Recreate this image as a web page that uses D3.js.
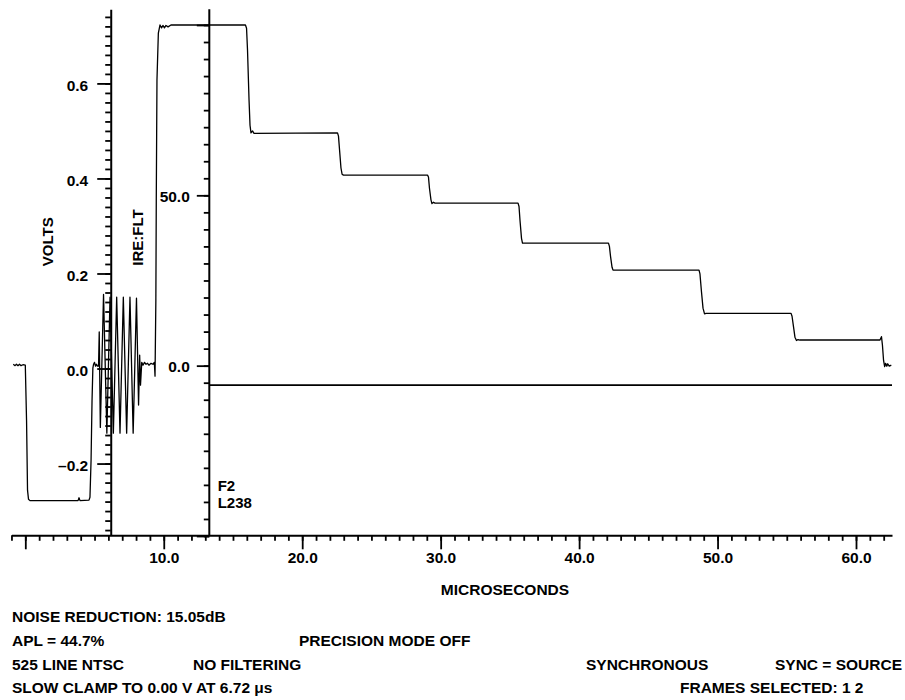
<!DOCTYPE html>
<html><head><meta charset="utf-8">
<script src="https://cdn.jsdelivr.net/npm/d3@7"></script>
<style>
html,body{margin:0;padding:0;background:#fff;}
svg text{font-family:"Liberation Sans",Arial,Helvetica,sans-serif;font-weight:bold;font-size:15.5px;fill:#000;}
</style></head><body>
<svg id="chart" width="905" height="700"></svg>
<script>
// ---------------- DATA ----------------
const xMajorTicks = [0, 10, 20, 30, 40, 50, 60];
const xMajorLabels = ["", "10.0", "20.0", "30.0", "40.0", "50.0", "60.0"];
const voltMajorTicks = [-0.2, 0, 0.2, 0.4, 0.6];
const voltMajorLabels = ["\u20130.2", "0.0", "0.2", "0.4", "0.6"];
const ireMajorTicks = [-50, 0, 50, 100];
const ireMajorLabels = ["", "0.0", "50.0", ""];
const xTitle = "MICROSECONDS";
const voltTitle = "VOLTS";
const ireTitle = "IRE:FLT";
const markerLines = ["F2", "L238"];
const cursorVolts = -0.035;

// trace: time (µs) and level (V)
const traceUs = [
 -0.87,-0.74,-0.64,-0.53,-0.42,-0.31,-0.17,0.00,0.09,0.16,0.23,0.34,1.78,3.81,3.88,3.95,4.60,4.67,4.75,4.82,4.88,4.93,
 5.00,5.07,5.14,5.21,5.29,5.34,5.42,5.65,5.89,6.12,6.36,6.60,6.84,7.08,7.32,7.56,7.79,8.03,8.18,8.26,8.32,8.41,
 8.50,8.61,8.72,8.83,8.93,9.08,9.22,9.32,9.37,9.43,9.46,9.51,9.61,9.73,9.84,9.95,10.05,10.16,10.31,10.52,
 15.90,15.98,16.05,16.16,16.23,16.30,16.41,16.52,
 22.55,22.62,22.70,22.80,22.88,22.98,
 29.05,29.12,29.19,29.30,29.37,29.48,29.59,
 35.59,35.66,35.73,35.84,35.91,
 42.12,42.19,42.27,42.38,42.45,
 48.66,48.73,48.84,48.95,49.06,49.17,
 55.31,55.38,55.49,55.59,55.70,55.81,55.95,
 61.73,61.84,61.91,61.99,62.07,62.14,62.22,62.29,62.40,62.55
];
const traceVolts = [
 0.009,0.006,0.009,0.006,0.009,0.006,0.008,0.007,-0.109,-0.256,-0.275,-0.278,-0.278,-0.278,-0.272,-0.278,-0.277,-0.271,-0.193,-0.067,0.001,0.009,
 0.013,0.005,0.009,0.005,0.005,0.077,-0.124,0.156,-0.136,0.150,-0.136,0.150,-0.136,0.150,-0.136,0.150,-0.136,0.148,-0.077,0.028,-0.035,0.013,
 0.007,0.013,0.009,0.011,0.007,0.011,0.009,0.013,-0.016,0.144,0.354,0.607,0.706,0.723,0.717,0.722,0.717,0.722,0.719,0.723,
 0.723,0.716,0.670,0.565,0.512,0.496,0.500,0.495,
 0.496,0.489,0.459,0.422,0.409,0.407,
 0.407,0.403,0.380,0.355,0.347,0.350,0.348,
 0.348,0.341,0.312,0.274,0.264,
 0.264,0.257,0.236,0.213,0.207,
 0.207,0.199,0.161,0.127,0.115,0.116,
 0.116,0.110,0.087,0.066,0.059,0.061,0.060,
 0.060,0.067,0.049,0.017,0.004,0.011,0.005,0.010,0.005,0.007
];

const infoTexts = [
 "NOISE REDUCTION: 15.05dB",
 "APL = 44.7%", "PRECISION MODE OFF",
 "525 LINE NTSC", "NO FILTERING", "SYNCHRONOUS", "SYNC = SOURCE",
 "SLOW CLAMP TO 0.00 V AT 6.72 \u03bcs", "FRAMES SELECTED: 1 2"
];

// ---------------- LAYOUT ----------------
const svg = d3.select("#chart");
const xScale = d3.scaleLinear().domain([-1, 62.6]).range([11.46, 892]);
const yV = d3.scaleLinear().domain([-0.351, 0.756]).range([535.3, 9.3]);
const yI = d3.scaleLinear().domain([-50, 104.6]).range([536, 9.3]);
const voltsAxisUs = 6.17;
const ireAxisUs = 13.29;
const axisY = 535.3;

function styleAxis(g, domainW) {
  g.select(".domain").attr("stroke", "#000").attr("stroke-width", domainW);
  g.selectAll(".tick line").attr("stroke", "#000").attr("stroke-width", 1.8);
}

// X axis
const gxMinor = svg.append("g").attr("transform", `translate(0,${axisY})`)
  .call(d3.axisBottom(xScale).tickValues(xScale.ticks(64)).tickSize(5.5).tickSizeOuter(0).tickFormat(""));
styleAxis(gxMinor, 2);
const gxMajor = svg.append("g").attr("transform", `translate(0,${axisY})`)
  .call(d3.axisBottom(xScale).tickValues(xMajorTicks).tickSize(14).tickPadding(3)
    .tickFormat((d, i) => xMajorLabels[i]));
gxMajor.select(".domain").remove();
styleAxis(gxMajor, 2);

// Volts axis
const vx = xScale(voltsAxisUs);
const gvMinor = svg.append("g").attr("transform", `translate(${vx},0)`)
  .call(d3.axisLeft(yV).tickValues(yV.ticks(55)).tickSize(5.5).tickSizeOuter(0).tickFormat(""));
styleAxis(gvMinor, 2);
const gvMajor = svg.append("g").attr("transform", `translate(${vx},0)`)
  .call(d3.axisLeft(yV).tickValues(voltMajorTicks).tickSize(13.5).tickPadding(9)
    .tickFormat((d, i) => voltMajorLabels[i]));
gvMajor.select(".domain").remove();
styleAxis(gvMajor, 2);
gvMajor.selectAll(".tick text").attr("dy", "0.45em");

// IRE axis
const ix = xScale(ireAxisUs);
const giMinor = svg.append("g").attr("transform", `translate(${ix},0)`)
  .call(d3.axisLeft(yI).tickValues(yI.ticks(30)).tickSize(5.5).tickSizeOuter(0).tickFormat(""));
giMinor.select(".domain").remove();
styleAxis(giMinor, 2);
const giMajor = svg.append("g").attr("transform", `translate(${ix},0)`)
  .call(d3.axisLeft(yI).tickValues(ireMajorTicks).tickSize(12.5).tickPadding(7)
    .tickFormat((d, i) => ireMajorLabels[i]));
giMajor.select(".domain").remove();
styleAxis(giMajor, 2);
giMajor.selectAll(".tick text").attr("dy", "0.4em");
svg.append("line").attr("x1", ix).attr("x2", ix).attr("y1", yV.range()[1]).attr("y2", axisY)
  .attr("stroke", "#000").attr("stroke-width", 2);

// Cursor line
svg.append("line")
  .attr("x1", ix).attr("x2", xScale(62.6))
  .attr("y1", yV(cursorVolts)).attr("y2", yV(cursorVolts))
  .attr("stroke", "#000").attr("stroke-width", 1.8);

// Trace
const line = d3.line().x((d, i) => xScale(traceUs[i])).y(d => yV(d));
svg.append("path").datum(traceVolts).attr("d", line)
  .attr("fill", "none").attr("stroke", "#000").attr("stroke-width", 1.3)
  .attr("stroke-linejoin", "round");

// Titles
svg.append("text").attr("transform", "translate(53.3,241.7) rotate(-90)")
  .attr("text-anchor", "middle").style("font-size", "15px").text(voltTitle);
svg.append("text").attr("transform", "translate(143.3,237.5) rotate(-90)")
  .attr("text-anchor", "middle").style("font-size", "15px").text(ireTitle);
svg.append("text").attr("x", 505).attr("y", 595).attr("text-anchor", "middle").text(xTitle);

svg.append("text").attr("x", 217.7).attr("y", 491).style("font-size", "15px").text(markerLines[0]);
svg.append("text").attr("x", 217.7).attr("y", 507.5).style("font-size", "15px").text(markerLines[1]);

// Info block
const infoPos = [[12,622],[12,646],[299,646],[12,669.5],[193,669.5],[586,669.5],[775,669.5],[12,693],[680,693]];
infoTexts.forEach((t, i) => {
  svg.append("text").attr("x", infoPos[i][0]).attr("y", infoPos[i][1]).text(t);
});
</script>
</body></html>
